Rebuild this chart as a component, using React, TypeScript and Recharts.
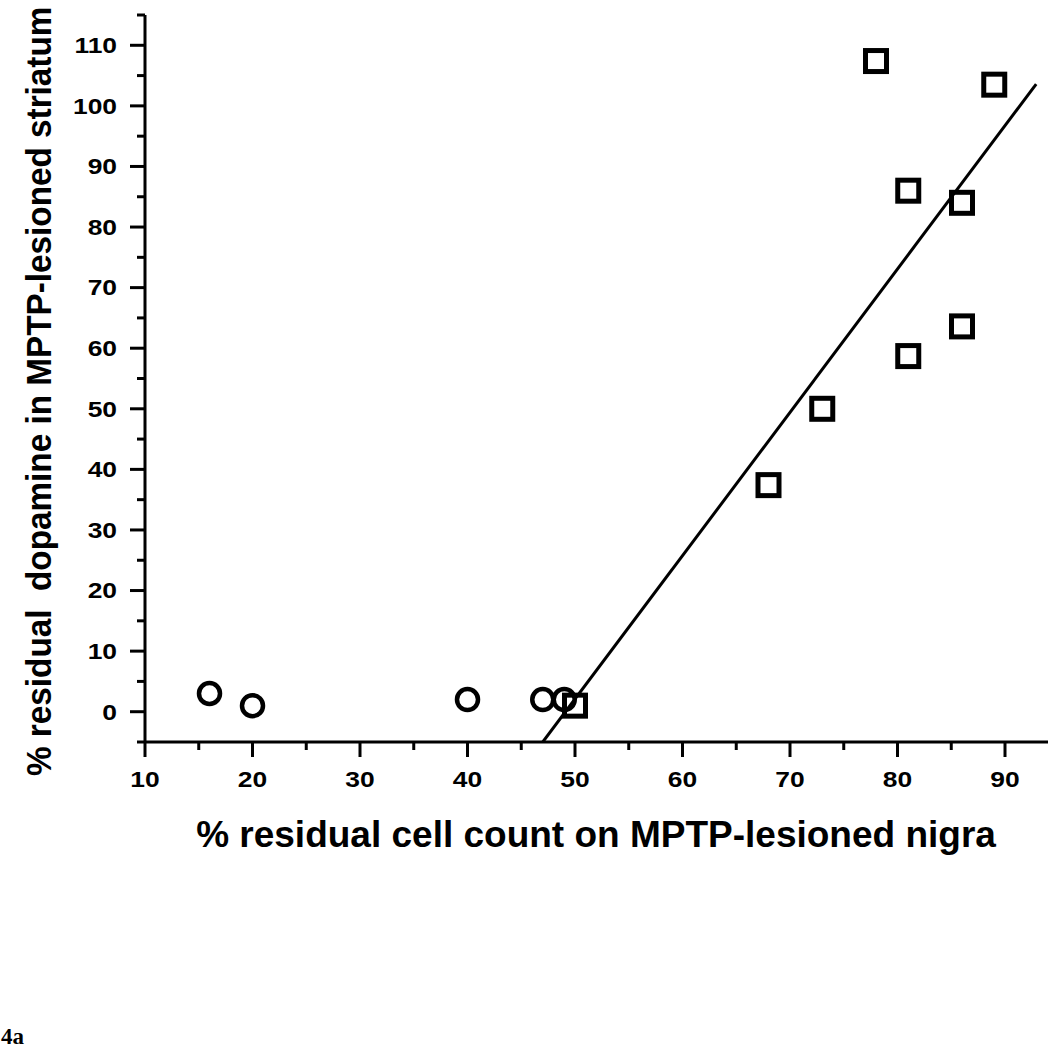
import React from 'react';
import { ScatterChart, Scatter, XAxis, YAxis, Label } from 'recharts';

const circleX = [16, 20, 40, 47, 49];
const circleY = [3, 1, 2, 2, 2];
const squareX = [50, 68, 73, 78, 81, 81, 86, 86, 89];
const squareY = [1, 37.4, 50, 107.4, 86, 58.7, 84, 63.6, 103.5];
const fitX = [47.0, 92.9];
const fitY = [-5, 103.6];
const xTicks = [10, 15, 20, 25, 30, 35, 40, 45, 50, 55, 60, 65, 70, 75, 80, 85, 90];
const yTicks = [-5, 0, 5, 10, 15, 20, 25, 30, 35, 40, 45, 50, 55, 60, 65, 70, 75, 80, 85, 90, 95, 100, 105, 110, 115];

const circles = circleX.map((x, i) => ({ x, y: circleY[i] }));
const squares = squareX.map((x, i) => ({ x, y: squareY[i] }));
const fit = fitX.map((x, i) => ({ x, y: fitY[i] }));

const FONT = '"Liberation Sans", Arial, sans-serif';

const XTick = (props: any) => {
  const { x, y, payload } = props;
  const v = payload.value;
  const major = v % 10 === 0;
  return (
    <g>
      <line x1={x} x2={x} y1={y} y2={y + (major ? 15 : 8)} stroke="#000" strokeWidth={3} />
      {major && (
        <text
          transform={`translate(${x},${y + 45}) scale(1.2,1)`}
          x={0}
          y={0}
          textAnchor="middle"
          fontFamily={FONT}
          fontWeight="bold"
          fontSize={22}
          fill="#000"
        >
          {v}
        </text>
      )}
    </g>
  );
};

const YTick = (props: any) => {
  const { x, y, payload } = props;
  const v = payload.value;
  const major = v % 10 === 0 && v >= 0 && v <= 110;
  return (
    <g>
      <line x1={x} x2={x - (major ? 15 : 8)} y1={y} y2={y} stroke="#000" strokeWidth={3} />
      {major && (
        <text
          transform={`translate(${x - 28},${y + 7.8}) scale(1.2,1)`}
          x={0}
          y={0}
          textAnchor="end"
          fontFamily={FONT}
          fontWeight="bold"
          fontSize={22}
          fill="#000"
        >
          {v}
        </text>
      )}
    </g>
  );
};

const CircleShape = (props: any) => {
  const { cx, cy } = props;
  return <circle cx={cx} cy={cy} r={10.5} fill="none" stroke="#000" strokeWidth={4.5} />;
};

const SquareShape = (props: any) => {
  const { cx, cy } = props;
  const h = 10.5;
  return <rect x={cx - h} y={cy - h} width={2 * h} height={2 * h} fill="none" stroke="#000" strokeWidth={5} />;
};

const NoShape = () => <g />;

export default function App() {
  return (
    <div style={{ position: 'absolute', left: 0, top: 0, width: 1049, height: 1050, background: '#fff' }}>
      <ScatterChart width={1049} height={1050} margin={{ top: 15, right: 1, left: 0, bottom: 248 }}>
        <XAxis
          type="number"
          dataKey="x"
          domain={[10, 94]}
          ticks={xTicks}
          allowDataOverflow
          height={60}
          tickSize={0}
          tickMargin={0}
          tickLine={false}
          axisLine={{ stroke: '#000', strokeWidth: 3 }}
          tick={<XTick />}
          interval={0}
        >
          <Label
            content={(p: any) => {
              const vb = p.viewBox;
              return (
                <text x={596} y={vb.y + 105} textAnchor="middle" fontFamily={FONT} fontWeight="bold" fontSize={37} fill="#000">
                  % residual cell count on MPTP-lesioned nigra
                </text>
              );
            }}
          />
        </XAxis>
        <YAxis
          type="number"
          dataKey="y"
          domain={[-5, 115]}
          ticks={yTicks}
          allowDataOverflow
          width={145}
          tickSize={0}
          tickMargin={0}
          tickLine={false}
          axisLine={{ stroke: '#000', strokeWidth: 3 }}
          tick={<YTick />}
          interval={0}
        >
          <Label
            content={() => (
              <text
                transform="translate(51,776) rotate(-90) scale(1,1.08)"
                x={0}
                y={0}
                textAnchor="start"
                fontFamily={FONT}
                fontWeight="bold"
                fontSize={33.3}
                fill="#000"
                style={{ whiteSpace: 'pre' }}
              >
                {'% residual  dopamine in MPTP-lesioned striatum'}
              </text>
            )}
          />
        </YAxis>
        <Scatter
          data={fit}
          line={{ stroke: '#000', strokeWidth: 3 }}
          lineType="joint"
          shape={<NoShape />}
          isAnimationActive={false}
        />
        <Scatter data={circles} shape={<CircleShape />} isAnimationActive={false} />
        <Scatter data={squares} shape={<SquareShape />} isAnimationActive={false} />
      </ScatterChart>
      <svg width={60} height={50} style={{ position: 'absolute', left: 0, top: 1000 }}>
        <text x={1} y={44} fontFamily='"Liberation Serif", serif' fontWeight="bold" fontSize={23} fill="#000">
          4a
        </text>
      </svg>
    </div>
  );
}
